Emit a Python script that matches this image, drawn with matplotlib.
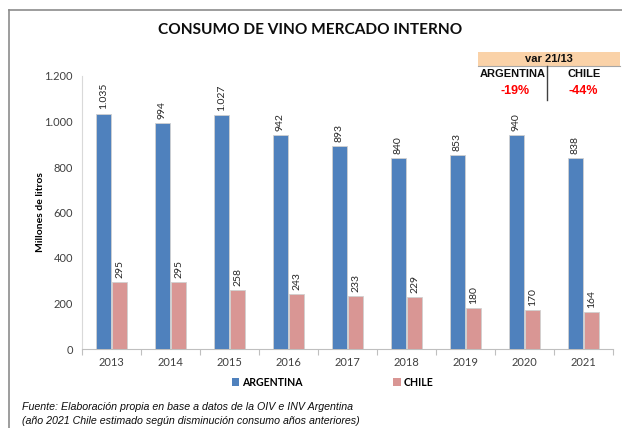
import matplotlib
matplotlib.use("Agg")
import matplotlib.pyplot as plt
from matplotlib.patches import Rectangle
from matplotlib.lines import Line2D
import numpy as np

years = ["2013", "2014", "2015", "2016", "2017", "2018", "2019", "2020", "2021"]
argentina = [1035, 994, 1027, 942, 893, 840, 853, 940, 838]
chile = [295, 295, 258, 243, 233, 229, 180, 170, 164]
series_names = ["ARGENTINA", "CHILE"]
var_values = ["-19%", "-44%"]
yticks = [0, 200, 400, 600, 800, 1000, 1200]

C_ARG = "#4F81BD"
C_CHI = "#D99694"

CAL = "Lato"
ARIAL = "Liberation Sans"

def fmt(v):
    return f"{v:,}".replace(",", ".")

W, H = 622, 428
fig = plt.figure(figsize=(W / 100, H / 100), dpi=100)

def fx(x):
    return x / W

def fy(y):
    return 1 - y / H

ax = fig.add_axes([fx(82), fy(349), fx(613) - fx(82), fy(76) - fy(349)])

x = np.arange(len(years))
bw = 0.255
off = 0.136
b1 = ax.bar(x - off, argentina, bw, color=C_ARG, edgecolor="#d0d0d0", linewidth=0.6, zorder=3)
b2 = ax.bar(x + off, chile, bw, color=C_CHI, edgecolor="#d0d0d0", linewidth=0.6, zorder=3)

for xi, v in zip(x, argentina):
    ax.annotate(fmt(v), (xi - off, v), xytext=(0, 3), textcoords="offset points",
                rotation=90, ha="center", va="bottom", fontsize=7.5, family=CAL, color="#262626")
for xi, v in zip(x, chile):
    ax.annotate(fmt(v), (xi + off, v), xytext=(0, 3), textcoords="offset points",
                rotation=90, ha="center", va="bottom", fontsize=7.5, family=CAL, color="#262626")

ax.set_xlim(-0.5, len(years) - 0.5)
ax.set_ylim(0, 1200)
ax.set_yticks(yticks)
ax.set_yticklabels([fmt(v) for v in yticks], family=CAL, fontsize=8, color="#404040")
ax.set_xticks(x)
ax.set_xticklabels(years, family=CAL, fontsize=8, color="#404040")
ax.set_xticks(np.arange(-0.5, len(years), 1.0), minor=True)
ax.tick_params(axis="x", which="major", length=0, pad=6)
ax.tick_params(axis="x", which="minor", length=4, color="#bfbfbf", width=0.8)
ax.tick_params(axis="y", length=0, pad=6.5)
for s in ["top", "right"]:
    ax.spines[s].set_visible(False)
ax.spines["left"].set_color("#d9d9d9")
ax.spines["bottom"].set_color("#bfbfbf")
ax.spines["left"].set_linewidth(0.8)
ax.spines["bottom"].set_linewidth(0.8)

ax.set_ylabel("Millones de litros", family=CAL, fontsize=7.5, fontweight="bold")
ax.yaxis.set_label_coords((45 - 82) / (613 - 82), 0.5)

# Figure border
fig.add_artist(Line2D([fx(9), fx(622)], [fy(10), fy(10)], color="#8c8c8c", lw=1.2))
fig.add_artist(Line2D([fx(9), fx(9)], [fy(10), fy(428)], color="#8c8c8c", lw=1.2))

# Title
fig.text(fx(310), fy(30), "CONSUMO DE VINO MERCADO INTERNO", ha="center", va="center",
         family=CAL, fontsize=11.1, fontweight="bold", color="#0d0d0d")

# Variation box
fig.add_artist(Rectangle((fx(478), fy(66)), fx(620) - fx(478), fy(52) - fy(66),
                         facecolor="#FAD2A8", edgecolor="none"))
fig.add_artist(Line2D([fx(478), fx(620)], [fy(66), fy(66)], color="#a6a6a6", lw=0.8))
fig.add_artist(Line2D([fx(547), fx(547)], [fy(66), fy(100)], color="#404040", lw=1.0))
fig.text(fx(549), fy(59), "var 21/13", ha="center", va="center", family=ARIAL,
         fontsize=8, fontweight="bold", color="#0d0d0d")
fig.text(fx(513), fy(74), series_names[0], ha="center", va="center", family=ARIAL,
         fontsize=8, fontweight="bold", color="#0d0d0d")
fig.text(fx(584), fy(74), series_names[1], ha="center", va="center", family=ARIAL,
         fontsize=8, fontweight="bold", color="#0d0d0d")
fig.text(fx(515), fy(91), var_values[0], ha="center", va="center", family=ARIAL,
         fontsize=9, fontweight="bold", color="#FF0000")
fig.text(fx(583), fy(91), var_values[1], ha="center", va="center", family=ARIAL,
         fontsize=9, fontweight="bold", color="#FF0000")

# Legend
leg = fig.legend([b1, b2], series_names, loc="center left", bbox_to_anchor=(fx(232), fy(382)),
                 ncol=2, frameon=False, handlelength=0.7, handleheight=0.7,
                 columnspacing=8.6, handletextpad=0.25, borderpad=0, borderaxespad=0,
                 prop={"family": CAL, "size": 7.6, "weight": "bold"})
for h in leg.legend_handles:
    h.set_edgecolor("none")

# Footnote
fig.text(fx(22), fy(407), "Fuente: Elaboración propia en base a datos de la OIV e INV Argentina",
         ha="left", va="center", family=ARIAL, fontsize=7.7, style="italic", color="#0d0d0d")
fig.text(fx(22), fy(421), "(año 2021 Chile estimado según disminución consumo años anteriores)",
         ha="left", va="center", family=ARIAL, fontsize=7.7, style="italic", color="#0d0d0d")

fig.savefig("out.png", dpi=100)
